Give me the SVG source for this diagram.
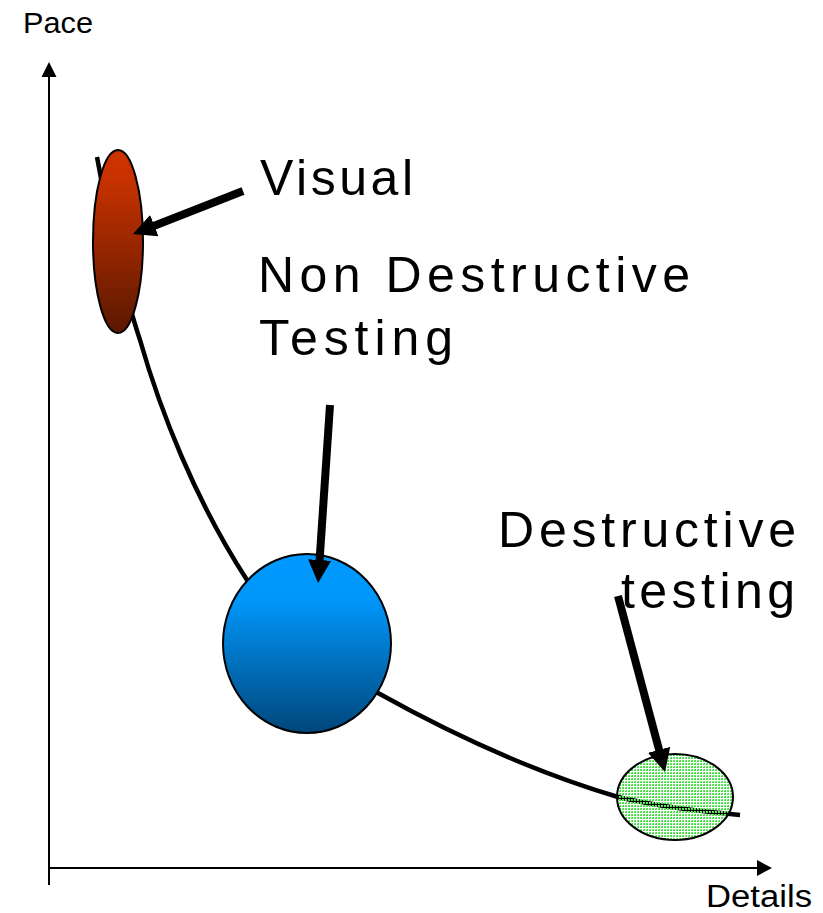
<svg xmlns="http://www.w3.org/2000/svg" width="823" height="913" viewBox="0 0 823 913">
  <style>
    .lbl { font-family: "Liberation Sans", Arial, sans-serif; fill: #000; }
    .big { font-size: 50px; }
    .axislbl { font-size: 29px; }
    .axis { stroke: #000; stroke-width: 2; fill: none; }
    .arrow { stroke: #000; stroke-width: 8; fill: none; marker-end: url(#head); }
    .node { stroke: #000; stroke-width: 2; }
  </style>
  <defs>
    <marker id="head" markerUnits="userSpaceOnUse" markerWidth="23" markerHeight="23" refX="9" refY="11.5" orient="auto">
      <path d="M0,0 L23,11.5 L0,23 Z" fill="#000"/>
    </marker>
    <linearGradient id="redGrad" x1="0" y1="0" x2="0" y2="1">
      <stop offset="0" stop-color="#cc3300"/>
      <stop offset="0.15" stop-color="#c83200"/>
      <stop offset="1" stop-color="#5a1800"/>
    </linearGradient>
    <linearGradient id="blueGrad" x1="0" y1="0" x2="0" y2="1">
      <stop offset="0" stop-color="#0099ff"/>
      <stop offset="0.25" stop-color="#0097fb"/>
      <stop offset="1" stop-color="#00467a"/>
    </linearGradient>
    <pattern id="greenGrid" patternUnits="userSpaceOnUse" width="3" height="3">
      <rect x="1" y="1" width="2" height="2" fill="#44dd44"/>
      <rect x="1" y="1" width="1" height="1" fill="#88ee88"/>
    </pattern>
  </defs>

  <rect width="823" height="913" fill="#fff"/>

  <g id="axes">
    <line class="axis" x1="49" y1="885" x2="49" y2="74"/>
    <path d="M49,62 L41.5,77 L56.5,77 Z" fill="#000"/>
    <line class="axis" x1="48" y1="868" x2="759" y2="868"/>
    <path d="M772,868 L757,860 L757,876 Z" fill="#000"/>
    <text class="lbl axislbl" x="23" y="33" textLength="70" lengthAdjust="spacingAndGlyphs">Pace</text>
    <text class="lbl" x="706" y="907" font-size="31" textLength="106" lengthAdjust="spacingAndGlyphs">Details</text>
  </g>

  <g id="trend-curve">
    <path d="M97,157 C105,200 120,280 140,340 C160,410 195,500 247,580 C290,640 330,670 378,693 C430,722 520,768 618,797 C660,807 700,811 740,815" fill="none" stroke="#000" stroke-width="4.5"/>
  </g>

  <g id="node-visual">
    <ellipse class="node" cx="118" cy="241.5" rx="25" ry="91.5" fill="url(#redGrad)"/>
    <text class="lbl big" x="260" y="195" textLength="153" lengthAdjust="spacing">Visual</text>
  </g>

  <g id="node-ndt">
    <ellipse class="node" cx="307" cy="643.5" rx="84" ry="89.5" fill="url(#blueGrad)"/>
    <text class="lbl big" x="258" y="292" textLength="432" lengthAdjust="spacing">Non Destructive</text>
    <text class="lbl big" x="259" y="355" textLength="194" lengthAdjust="spacing">Testing</text>
  </g>

  <g id="node-destructive">
    <ellipse class="node" cx="675" cy="797" rx="58" ry="43" fill="url(#greenGrid)"/>
    <text class="lbl big" x="498" y="547" textLength="298" lengthAdjust="spacing">Destructive</text>
    <text class="lbl big" x="621" y="608" textLength="174" lengthAdjust="spacing">testing</text>
  </g>

  <g id="connectors">
    <line class="arrow" x1="243" y1="191" x2="146" y2="229"/>
    <line class="arrow" x1="330" y1="405" x2="319" y2="569"/>
    <line class="arrow" x1="618" y1="596" x2="661.4" y2="758.5"/>
  </g>
</svg>
